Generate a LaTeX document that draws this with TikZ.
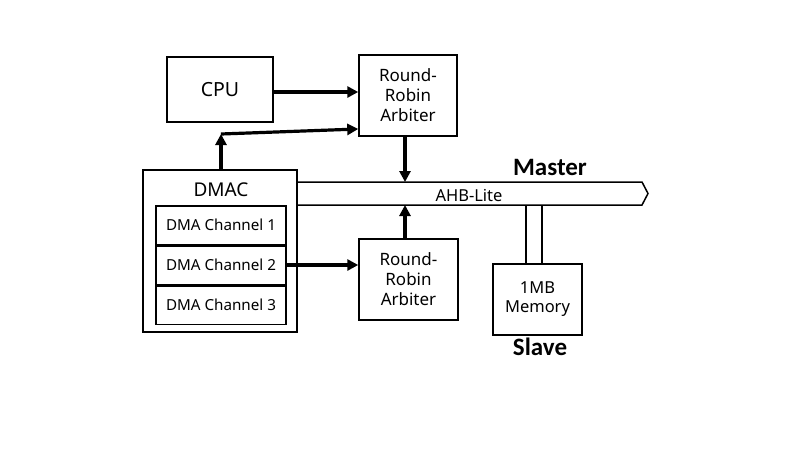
\documentclass[tikz,border=0pt]{standalone}
\usepackage{fontspec}
\setmainfont{Noto Sans}
\newfontfamily\labfont{Carlito}
\usetikzlibrary{arrows.meta,positioning}

\begin{document}
\begin{tikzpicture}[
        x=1pt,
        y=-1pt,
        font=\fontsize{17}{20}\selectfont,
        box/.style={draw, line width=1.5pt, align=center, inner sep=0pt},
        chan/.style={box, minimum width=130, minimum height=38.5, font=\fontsize{15.2}{17}\selectfont},
        link/.style={line width=3.2pt, -{Triangle[length=11pt,width=11pt]}},
        wire/.style={line width=1.5pt},
        tag/.style={font=\labfont\bfseries\fontsize{25}{28}\selectfont}
    ]
        \useasboundingbox (0,0) rectangle (800,450);

        \node[box, minimum width=106, minimum height=65, font=\fontsize{19.5}{20}\selectfont] (cpu) at (220,89.5) {CPU};
        \node[box, minimum width=98, minimum height=81] (arbTop) at (408,95.5) {Round-\\Robin\\Arbiter};
        \node[box, minimum width=154, minimum height=162] (dmac) at (220,251) {};
        \node[font=\fontsize{19}{20}\selectfont] (dmacLab) at (221,190) {DMAC};
        \node[chan] (ch1) at (221,225) {DMA Channel 1};
        \node[chan, below=0pt of ch1] (ch2) {DMA Channel 2};
        \node[chan, below=0pt of ch2] (ch3) {DMA Channel 3};
        \node[box, minimum width=99, minimum height=81] (arbBot) at (408.5,279.5) {Round-\\Robin\\Arbiter};
        \node[box, minimum width=89, minimum height=71, font=\fontsize{16.5}{19}\selectfont] (mem) at (537.5,299.5) {1MB\\Memory};

        % bus
        \coordinate (busTL) at (297,182);
        \coordinate (busBL) at (297,205);
        \draw[wire] (busTL) -- (642,182) -- (648,193.5) -- (642,205) -- (busBL);
        \node[font=\fontsize{16.5}{17}\selectfont] (bus) at (469,195) {AHB-Lite};
        \node[tag] (master) at (550,167) {Master};
        \node[tag] (slave) at (540,347) {Slave};

        % masters to arbiters
        \draw[link] (cpu.east |- 0,92) -- (arbTop.west |- 0,92);
        \coordinate (junc) at (221,134);
        \draw[link] (dmac.north -| junc) -- (junc);
        \draw[link] (junc) -- (arbTop.west |- 0,129);
        \draw[link] (ch2.east) -- (arbBot.west |- ch2.east);

        % arbiters to bus
        \draw[link] (arbTop.south -| 405,0) -- (405,182);
        \draw[link] (arbBot.north -| 405,0) -- (405,205);

        % bus to memory
        \draw[wire] (526,205) -- (mem.north -| 526,0);
        \draw[wire] (542,205) -- (mem.north -| 542,0);
    \end{tikzpicture}
\end{document}
